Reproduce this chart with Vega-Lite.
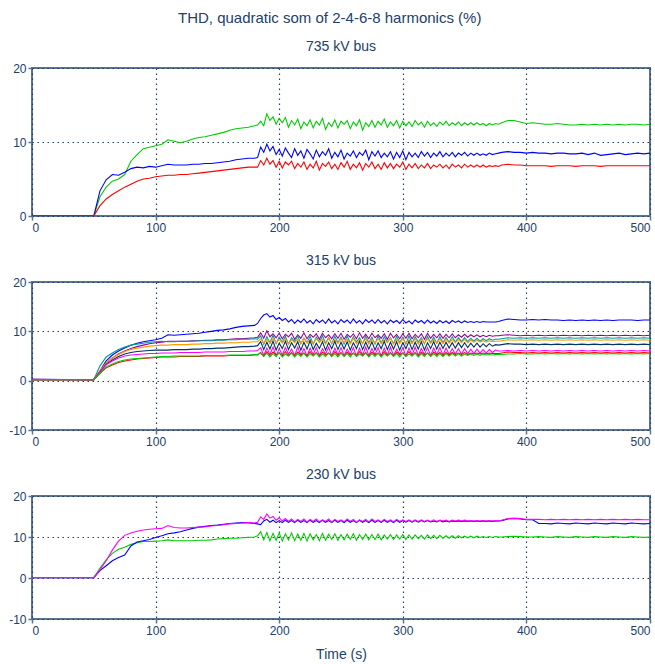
{
"$schema":"https://vega.github.io/schema/vega-lite/v6.json",
"padding":{"left":7,"top":11,"right":4,"bottom":2},
"title":{"text":"THD, quadratic som of 2-4-6-8 harmonics (%)","fontSize":15,"fontWeight":"normal","color":"#23406a","offset":13,"anchor":"middle"},
"spacing":19,
"resolve":{"scale":{"color":"independent"}},
"config":{
 "font":"Liberation Sans",
 "view":{"stroke":"#5b7391","strokeWidth":2},
 "axis":{"labelFont":"Liberation Sans","labelFontSize":12,"labelColor":"#23406a","domain":false,"tickColor":"#5b7391","tickSize":4,"tickWidth":1.5,"gridColor":"#23406a","gridDash":[1.5,3.5],"gridOpacity":1,"gridWidth":1.2,"titleFont":"Liberation Sans","titleFontSize":14,"titleFontWeight":"normal","titleColor":"#23406a","labelPadding":2},
 "title":{"font":"Liberation Sans","fontSize":14,"fontWeight":"normal","color":"#23406a","offset":8}
},
"datasets":{
"top":[
{"t":0,"g":0,"b":0,"r":0},{"t":50,"g":0,"b":0,"r":0},
{"t":55,"g":2.6,"b":3.4,"r":1.4},{"t":60,"g":3.9,"b":4.9,"r":2.3},{"t":65,"g":4.7,"b":5.6,"r":2.9},{"t":70,"g":5.0,"b":5.5,"r":3.4},
{"t":75,"g":5.6,"b":5.9,"r":3.9},{"t":80,"g":7.4,"b":6.4,"r":4.3},{"t":85,"g":8.3,"b":6.6,"r":4.7},{"t":90,"g":9.1,"b":6.5,"r":5.0},
{"t":95,"g":9.3,"b":6.7,"r":5.1},{"t":100,"g":9.5,"b":6.6,"r":5.3},{"t":105,"g":9.7,"b":6.8,"r":5.4},{"t":110,"g":10.3,"b":7.0,"r":5.5},
{"t":115,"g":10.1,"b":6.9,"r":5.5},{"t":120,"g":9.9,"b":6.9,"r":5.6},{"t":125,"g":10.1,"b":6.9,"r":5.6},{"t":130,"g":10.4,"b":7.0,"r":5.7},
{"t":135,"g":10.6,"b":7.0,"r":5.8},{"t":140,"g":10.7,"b":7.1,"r":5.9},{"t":145,"g":10.9,"b":7.1,"r":6.0},{"t":150,"g":11.1,"b":7.2,"r":6.1},
{"t":155,"g":11.3,"b":7.3,"r":6.2},{"t":160,"g":11.6,"b":7.4,"r":6.3},{"t":165,"g":11.8,"b":7.6,"r":6.4},{"t":170,"g":11.9,"b":7.7,"r":6.5},
{"t":175,"g":12.0,"b":7.8,"r":6.6},{"t":180,"g":12.2,"b":7.8,"r":6.6},
{"t":182.5,"g":12.3,"b":7.9,"r":6.6},{"t":185,"g":12.8,"b":9.3,"r":7.5},{"t":187.5,"g":12.2,"b":8.6,"r":6.9},{"t":190,"g":13.8,"b":9.7,"r":7.8},
{"t":192.5,"g":12.9,"b":8.8,"r":7.0},{"t":195,"g":13.4,"b":9.4,"r":7.5},{"t":197.5,"g":12.4,"b":8.3,"r":6.6},{"t":200,"g":13.2,"b":9.0,"r":7.4},
{"t":202.5,"g":12.6,"b":8.1,"r":6.5},{"t":205,"g":13.3,"b":9.2,"r":7.3},{"t":207.5,"g":12.0,"b":8.5,"r":6.9},{"t":210,"g":12.9,"b":7.9,"r":7.4},
{"t":212.5,"g":12.3,"b":9.1,"r":6.4},{"t":215,"g":13.1,"b":8.2,"r":7.1},{"t":217.5,"g":11.8,"b":8.8,"r":6.6},{"t":220,"g":12.7,"b":7.8,"r":7.3},
{"t":222.5,"g":12.2,"b":9.0,"r":6.3},{"t":225,"g":13.0,"b":8.4,"r":7.0},{"t":227.5,"g":11.9,"b":7.7,"r":6.5},{"t":230,"g":12.8,"b":8.9,"r":7.4},
{"t":232.5,"g":12.3,"b":8.0,"r":6.2},{"t":235,"g":13.2,"b":8.7,"r":7.1},{"t":237.5,"g":11.7,"b":8.2,"r":6.7},{"t":240,"g":12.6,"b":9.1,"r":7.3},
{"t":242.5,"g":12.1,"b":7.8,"r":6.4},{"t":245,"g":13.0,"b":8.6,"r":7.0},{"t":247.5,"g":11.9,"b":8.0,"r":6.3},{"t":250,"g":12.8,"b":8.9,"r":7.2},
{"t":252.5,"g":12.4,"b":7.7,"r":6.6},{"t":255,"g":12.9,"b":8.5,"r":7.4},{"t":257.5,"g":11.8,"b":8.1,"r":6.3},{"t":260,"g":12.7,"b":8.8,"r":7.0},
{"t":262.5,"g":12.2,"b":7.9,"r":6.5},{"t":265,"g":13.0,"b":8.6,"r":7.2},{"t":267.5,"g":11.6,"b":8.2,"r":6.2},{"t":270,"g":12.6,"b":8.9,"r":7.1},
{"t":272.5,"g":12.1,"b":7.6,"r":6.6},{"t":275,"g":12.9,"b":8.7,"r":7.3},{"t":277.5,"g":12.0,"b":8.1,"r":6.4},{"t":280,"g":12.8,"b":8.8,"r":7.0},
{"t":282.5,"g":12.3,"b":7.9,"r":6.3},{"t":285,"g":13.1,"b":8.5,"r":7.2},{"t":287.5,"g":12.0,"b":8.0,"r":6.5},{"t":290,"g":12.7,"b":8.7,"r":7.1},
{"t":292.5,"g":12.2,"b":7.7,"r":6.4},{"t":295,"g":12.9,"b":8.6,"r":7.0},{"t":297.5,"g":11.9,"b":7.9,"r":6.6},{"t":300,"g":12.8,"b":8.8,"r":7.3},
{"t":302.5,"g":12.2,"b":7.6,"r":6.3},{"t":305,"g":12.7,"b":8.6,"r":7.0},{"t":307.5,"g":12.1,"b":8.0,"r":6.5},{"t":310,"g":12.9,"b":8.5,"r":7.1},
{"t":312.5,"g":12.3,"b":7.9,"r":6.4},{"t":315,"g":12.7,"b":8.7,"r":6.9},{"t":317.5,"g":12.0,"b":8.1,"r":6.5},{"t":320,"g":12.8,"b":8.6,"r":7.1},
{"t":322.5,"g":12.2,"b":7.9,"r":6.4},{"t":325,"g":12.6,"b":8.5,"r":6.9},{"t":327.5,"g":12.1,"b":8.1,"r":6.6},{"t":330,"g":12.7,"b":8.7,"r":7.0},
{"t":332.5,"g":12.3,"b":8.0,"r":6.5},{"t":335,"g":12.8,"b":8.5,"r":6.9},{"t":337.5,"g":12.2,"b":8.1,"r":6.4},{"t":340,"g":12.6,"b":8.6,"r":7.0},
{"t":342.5,"g":12.3,"b":8.0,"r":6.6},{"t":345,"g":12.7,"b":8.5,"r":6.9},{"t":347.5,"g":12.2,"b":8.2,"r":6.5},{"t":350,"g":12.6,"b":8.6,"r":7.0},
{"t":352.5,"g":12.3,"b":8.1,"r":6.6},{"t":355,"g":12.6,"b":8.5,"r":6.9},{"t":357.5,"g":12.3,"b":8.2,"r":6.6},{"t":360,"g":12.6,"b":8.5,"r":6.9},
{"t":362.5,"g":12.3,"b":8.2,"r":6.6},{"t":365,"g":12.5,"b":8.4,"r":6.9},{"t":367.5,"g":12.2,"b":8.2,"r":6.6},{"t":370,"g":12.5,"b":8.5,"r":6.8},
{"t":372.5,"g":12.3,"b":8.3,"r":6.7},{"t":375,"g":12.5,"b":8.4,"r":6.8},{"t":377.5,"g":12.4,"b":8.5,"r":6.7},{"t":380,"g":12.6,"b":8.6,"r":6.9},
{"t":385,"g":12.9,"b":8.7,"r":7.0},{"t":390,"g":12.9,"b":8.6,"r":6.9},
{"t":395,"g":12.7,"b":8.6,"r":6.9},{"t":400,"g":12.5,"b":8.5,"r":6.8},{"t":405,"g":12.6,"b":8.6,"r":6.8},{"t":410,"g":12.5,"b":8.5,"r":6.8},
{"t":415,"g":12.4,"b":8.5,"r":6.8},{"t":420,"g":12.4,"b":8.4,"r":6.7},{"t":425,"g":12.5,"b":8.5,"r":6.8},{"t":430,"g":12.4,"b":8.5,"r":6.8},
{"t":435,"g":12.3,"b":8.4,"r":6.8},{"t":440,"g":12.3,"b":8.4,"r":6.7},{"t":445,"g":12.4,"b":8.5,"r":6.8},{"t":450,"g":12.3,"b":8.3,"r":6.8},
{"t":455,"g":12.4,"b":8.5,"r":6.8},{"t":460,"g":12.3,"b":8.2,"r":6.7},{"t":465,"g":12.4,"b":8.3,"r":6.8},{"t":470,"g":12.3,"b":8.4,"r":6.8},
{"t":475,"g":12.4,"b":8.5,"r":6.8},{"t":480,"g":12.3,"b":8.3,"r":6.8},{"t":485,"g":12.4,"b":8.4,"r":6.8},{"t":490,"g":12.4,"b":8.5,"r":6.8},
{"t":495,"g":12.3,"b":8.4,"r":6.8},{"t":500,"g":12.4,"b":8.5,"r":6.8}
],
"mid":[
{"t":0,"b":0.3,"p":0.3,"c":0.2,"o":0.2,"n":0.2,"m":0.2,"r":0.2,"g":0.2},
{"t":50,"b":0.2,"p":0.2,"c":0.2,"o":0.2,"n":0.2,"m":0.2,"r":0.2,"g":0.2},
{"t":55,"b":2.0,"p":1.8,"c":3.0,"o":2.0,"n":1.8,"m":1.8,"r":1.5,"g":1.5},
{"t":60,"b":4.0,"p":3.6,"c":4.8,"o":3.6,"n":3.3,"m":3.2,"r":2.6,"g":2.8},
{"t":65,"b":5.2,"p":4.6,"c":5.6,"o":4.6,"n":4.2,"m":4.0,"r":3.2,"g":3.4},
{"t":70,"b":6.0,"p":5.4,"c":6.3,"o":5.3,"n":4.9,"m":4.6,"r":3.7,"g":3.9},
{"t":75,"b":6.6,"p":6.0,"c":6.8,"o":5.9,"n":5.4,"m":5.0,"r":4.0,"g":4.2},
{"t":80,"b":7.2,"p":6.5,"c":7.2,"o":6.3,"n":5.7,"m":5.2,"r":4.2,"g":4.4},
{"t":85,"b":7.6,"p":6.9,"c":7.4,"o":6.6,"n":5.9,"m":5.3,"r":4.4,"g":4.5},
{"t":90,"b":7.9,"p":7.2,"c":7.6,"o":6.8,"n":6.0,"m":5.4,"r":4.5,"g":4.6},
{"t":95,"b":8.1,"p":7.5,"c":7.8,"o":7.0,"n":6.1,"m":5.5,"r":4.6,"g":4.7},
{"t":100,"b":8.3,"p":7.7,"c":7.9,"o":7.1,"n":6.2,"m":5.5,"r":4.7,"g":4.8},
{"t":105,"b":8.6,"p":7.8,"c":8.0,"o":7.2,"n":6.2,"m":5.6,"r":4.8,"g":4.9},
{"t":110,"b":9.3,"p":8.0,"c":7.9,"o":7.2,"n":6.2,"m":5.6,"r":4.8,"g":4.9},
{"t":115,"b":9.2,"p":8.0,"c":7.9,"o":7.3,"n":6.3,"m":5.6,"r":4.8,"g":5.0},
{"t":120,"b":9.3,"p":8.0,"c":8.0,"o":7.3,"n":6.3,"m":5.7,"r":4.9,"g":5.0},
{"t":125,"b":9.4,"p":8.0,"c":8.0,"o":7.3,"n":6.3,"m":5.7,"r":4.9,"g":5.0},
{"t":130,"b":9.5,"p":8.1,"c":8.0,"o":7.4,"n":6.4,"m":5.7,"r":4.9,"g":5.0},
{"t":135,"b":9.6,"p":8.1,"c":8.1,"o":7.4,"n":6.4,"m":5.7,"r":4.9,"g":5.0},
{"t":140,"b":9.8,"p":8.2,"c":8.1,"o":7.5,"n":6.5,"m":5.8,"r":5.0,"g":5.1},
{"t":145,"b":10.0,"p":8.2,"c":8.1,"o":7.5,"n":6.5,"m":5.8,"r":5.0,"g":5.1},
{"t":150,"b":10.2,"p":8.3,"c":8.2,"o":7.6,"n":6.6,"m":5.8,"r":5.0,"g":5.1},
{"t":155,"b":10.3,"p":8.3,"c":8.2,"o":7.6,"n":6.6,"m":5.8,"r":5.0,"g":5.1},
{"t":160,"b":10.5,"p":8.4,"c":8.3,"o":7.7,"n":6.7,"m":5.9,"r":5.1,"g":5.2},
{"t":165,"b":10.8,"p":8.5,"c":8.3,"o":7.7,"n":6.8,"m":5.9,"r":5.1,"g":5.2},
{"t":170,"b":11.0,"p":8.5,"c":8.4,"o":7.8,"n":6.9,"m":5.9,"r":5.1,"g":5.2},
{"t":175,"b":11.1,"p":8.6,"c":8.4,"o":7.8,"n":6.9,"m":6.0,"r":5.1,"g":5.2},
{"t":180,"b":11.2,"p":8.7,"c":8.5,"o":7.9,"n":7.0,"m":6.0,"r":5.2,"g":5.3},
{"t":182.5,"b":11.6,"p":8.8,"c":8.4,"o":7.9,"n":7.1,"m":6.1,"r":5.2,"g":5.3},
{"t":185,"b":12.6,"p":9.7,"c":9.1,"o":8.5,"n":7.9,"m":6.7,"r":5.7,"g":5.6},
{"t":187.5,"b":13.3,"p":8.6,"c":7.4,"o":7.6,"n":6.3,"m":5.1,"r":5.0,"g":4.9},
{"t":190,"b":13.6,"p":10.1,"c":8.9,"o":8.4,"n":7.8,"m":6.6,"r":5.9,"g":5.6},
{"t":192.5,"b":12.9,"p":8.9,"c":7.7,"o":7.5,"n":6.4,"m":5.3,"r":5.1,"g":4.8},
{"t":195,"b":13.2,"p":9.5,"c":9.2,"o":8.6,"n":8.0,"m":6.8,"r":5.8,"g":5.5},
{"t":197.5,"b":12.4,"p":8.7,"c":7.5,"o":7.7,"n":6.2,"m":5.0,"r":5.2,"g":4.9},
{"t":200,"b":12.8,"p":9.6,"c":8.8,"o":8.3,"n":7.6,"m":6.5,"r":5.6,"g":5.7},
{"t":202.5,"b":12.2,"p":8.5,"c":7.8,"o":7.6,"n":6.5,"m":5.2,"r":5.0,"g":4.8},
{"t":205,"b":12.6,"p":9.4,"c":9.0,"o":8.5,"n":8.0,"m":6.7,"r":5.9,"g":5.4},
{"t":207.5,"b":11.9,"p":8.9,"c":7.4,"o":7.4,"n":6.3,"m":5.4,"r":5.1,"g":5.0},
{"t":210,"b":12.4,"p":9.6,"c":8.7,"o":8.3,"n":7.7,"m":6.4,"r":5.7,"g":5.6},
{"t":212.5,"b":11.6,"p":8.4,"c":7.9,"o":7.7,"n":6.6,"m":5.1,"r":5.0,"g":4.8},
{"t":215,"b":12.3,"p":9.3,"c":9.1,"o":8.4,"n":7.9,"m":6.8,"r":5.8,"g":5.5},
{"t":217.5,"b":11.8,"p":8.6,"c":7.5,"o":7.5,"n":6.2,"m":5.2,"r":5.2,"g":4.9},
{"t":220,"b":12.5,"p":9.7,"c":8.6,"o":8.6,"n":7.8,"m":6.5,"r":5.6,"g":5.6},
{"t":222.5,"b":11.7,"p":8.5,"c":7.7,"o":7.6,"n":6.4,"m":5.0,"r":5.0,"g":4.8},
{"t":225,"b":12.2,"p":9.4,"c":9.0,"o":8.3,"n":8.1,"m":6.6,"r":5.9,"g":5.5},
{"t":227.5,"b":11.5,"p":8.8,"c":7.4,"o":7.5,"n":6.3,"m":5.3,"r":5.1,"g":5.0},
{"t":230,"b":12.4,"p":9.5,"c":8.8,"o":8.5,"n":7.6,"m":6.7,"r":5.7,"g":5.6},
{"t":232.5,"b":11.8,"p":8.4,"c":7.8,"o":7.7,"n":6.5,"m":5.1,"r":5.0,"g":4.8},
{"t":235,"b":12.3,"p":9.6,"c":9.1,"o":8.4,"n":7.9,"m":6.5,"r":5.8,"g":5.4},
{"t":237.5,"b":11.6,"p":8.7,"c":7.6,"o":7.4,"n":6.2,"m":5.4,"r":5.2,"g":4.9},
{"t":240,"b":12.5,"p":9.3,"c":8.7,"o":8.6,"n":7.7,"m":6.8,"r":5.6,"g":5.6},
{"t":242.5,"b":11.7,"p":8.5,"c":7.5,"o":7.6,"n":6.5,"m":5.0,"r":5.0,"g":4.9},
{"t":245,"b":12.2,"p":9.5,"c":9.0,"o":8.3,"n":8.0,"m":6.6,"r":5.9,"g":5.5},
{"t":247.5,"b":11.5,"p":8.6,"c":7.7,"o":7.5,"n":6.3,"m":5.2,"r":5.1,"g":4.8},
{"t":250,"b":12.4,"p":9.6,"c":8.8,"o":8.5,"n":7.8,"m":6.7,"r":5.7,"g":5.6},
{"t":252.5,"b":11.8,"p":8.4,"c":7.4,"o":7.7,"n":6.4,"m":5.1,"r":5.0,"g":4.9},
{"t":255,"b":12.3,"p":9.4,"c":9.1,"o":8.4,"n":7.9,"m":6.4,"r":5.8,"g":5.5},
{"t":257.5,"b":11.6,"p":8.8,"c":7.6,"o":7.4,"n":6.2,"m":5.3,"r":5.2,"g":4.8},
{"t":260,"b":12.5,"p":9.5,"c":8.9,"o":8.6,"n":7.7,"m":6.7,"r":5.6,"g":5.6},
{"t":262.5,"b":11.7,"p":8.5,"c":7.8,"o":7.5,"n":6.5,"m":5.0,"r":5.0,"g":4.9},
{"t":265,"b":12.2,"p":9.7,"c":8.7,"o":8.3,"n":8.0,"m":6.6,"r":5.9,"g":5.4},
{"t":267.5,"b":11.5,"p":8.6,"c":7.5,"o":7.6,"n":6.3,"m":5.2,"r":5.1,"g":5.0},
{"t":270,"b":12.4,"p":9.4,"c":9.0,"o":8.5,"n":7.8,"m":6.8,"r":5.7,"g":5.6},
{"t":272.5,"b":11.8,"p":8.5,"c":7.7,"o":7.4,"n":6.4,"m":5.1,"r":5.0,"g":4.8},
{"t":275,"b":12.3,"p":9.6,"c":8.8,"o":8.4,"n":7.9,"m":6.5,"r":5.8,"g":5.5},
{"t":277.5,"b":11.6,"p":8.7,"c":7.4,"o":7.6,"n":6.2,"m":5.3,"r":5.2,"g":4.9},
{"t":280,"b":12.4,"p":9.3,"c":9.1,"o":8.5,"n":7.7,"m":6.7,"r":5.6,"g":5.6},
{"t":282.5,"b":11.7,"p":8.6,"c":7.6,"o":7.5,"n":6.5,"m":5.0,"r":5.0,"g":4.8},
{"t":285,"b":12.2,"p":9.5,"c":8.9,"o":8.3,"n":8.0,"m":6.6,"r":5.9,"g":5.5},
{"t":287.5,"b":11.5,"p":8.4,"c":7.8,"o":7.7,"n":6.3,"m":5.2,"r":5.1,"g":5.0},
{"t":290,"b":12.3,"p":9.6,"c":8.7,"o":8.6,"n":7.8,"m":6.8,"r":5.7,"g":5.6},
{"t":292.5,"b":11.8,"p":8.7,"c":7.5,"o":7.4,"n":6.4,"m":5.1,"r":5.0,"g":4.9},
{"t":295,"b":12.2,"p":9.4,"c":9.0,"o":8.4,"n":7.9,"m":6.4,"r":5.8,"g":5.5},
{"t":297.5,"b":11.6,"p":8.5,"c":7.7,"o":7.5,"n":6.2,"m":5.3,"r":5.2,"g":4.8},
{"t":300,"b":12.4,"p":9.5,"c":8.8,"o":8.5,"n":7.7,"m":6.7,"r":5.6,"g":5.6},
{"t":302.5,"b":11.7,"p":8.6,"c":7.4,"o":7.6,"n":6.5,"m":5.0,"r":5.0,"g":4.9},
{"t":305,"b":12.1,"p":9.6,"c":9.1,"o":8.3,"n":8.0,"m":6.6,"r":5.9,"g":5.4},
{"t":307.5,"b":11.5,"p":8.5,"c":7.6,"o":7.5,"n":6.3,"m":5.2,"r":5.1,"g":5.0},
{"t":310,"b":12.3,"p":9.4,"c":8.9,"o":8.5,"n":7.8,"m":6.8,"r":5.7,"g":5.6},
{"t":312.5,"b":11.8,"p":8.7,"c":7.8,"o":7.4,"n":6.4,"m":5.1,"r":5.0,"g":4.8},
{"t":315,"b":12.2,"p":9.5,"c":8.7,"o":8.4,"n":7.9,"m":6.5,"r":5.8,"g":5.5},
{"t":317.5,"b":11.6,"p":8.4,"c":7.5,"o":7.6,"n":6.2,"m":5.3,"r":5.2,"g":4.9},
{"t":320,"b":12.3,"p":9.6,"c":9.0,"o":8.5,"n":7.7,"m":6.7,"r":5.6,"g":5.6},
{"t":322.5,"b":11.7,"p":8.6,"c":7.7,"o":7.5,"n":6.5,"m":5.1,"r":5.0,"g":4.9},
{"t":325,"b":12.1,"p":9.4,"c":8.8,"o":8.3,"n":7.9,"m":6.6,"r":5.8,"g":5.5},
{"t":327.5,"b":11.6,"p":8.7,"c":7.6,"o":7.6,"n":6.4,"m":5.3,"r":5.2,"g":4.9},
{"t":330,"b":12.2,"p":9.5,"c":8.9,"o":8.4,"n":7.8,"m":6.7,"r":5.7,"g":5.5},
{"t":332.5,"b":11.7,"p":8.6,"c":7.7,"o":7.5,"n":6.5,"m":5.2,"r":5.1,"g":4.9},
{"t":335,"b":12.1,"p":9.4,"c":8.8,"o":8.4,"n":7.8,"m":6.6,"r":5.7,"g":5.5},
{"t":337.5,"b":11.6,"p":8.7,"c":7.8,"o":7.6,"n":6.6,"m":5.3,"r":5.2,"g":5.0},
{"t":340,"b":12.2,"p":9.5,"c":8.9,"o":8.3,"n":7.7,"m":6.5,"r":5.7,"g":5.5},
{"t":342.5,"b":11.8,"p":8.7,"c":7.8,"o":7.7,"n":6.6,"m":5.4,"r":5.3,"g":5.0},
{"t":345,"b":12.1,"p":9.3,"c":8.7,"o":8.3,"n":7.7,"m":6.5,"r":5.6,"g":5.5},
{"t":347.5,"b":11.7,"p":8.8,"c":7.9,"o":7.7,"n":6.7,"m":5.4,"r":5.3,"g":5.0},
{"t":350,"b":12.1,"p":9.4,"c":8.7,"o":8.3,"n":7.7,"m":6.5,"r":5.7,"g":5.4},
{"t":352.5,"b":11.8,"p":8.8,"c":7.9,"o":7.7,"n":6.7,"m":5.5,"r":5.3,"g":5.1},
{"t":355,"b":12.0,"p":9.3,"c":8.6,"o":8.2,"n":7.6,"m":6.4,"r":5.6,"g":5.4},
{"t":357.5,"b":11.8,"p":8.9,"c":8.0,"o":7.8,"n":6.8,"m":5.5,"r":5.4,"g":5.1},
{"t":360,"b":12.0,"p":9.3,"c":8.6,"o":8.2,"n":7.6,"m":6.4,"r":5.6,"g":5.4},
{"t":362.5,"b":11.8,"p":8.9,"c":8.0,"o":7.8,"n":6.8,"m":5.6,"r":5.4,"g":5.1},
{"t":365,"b":12.0,"p":9.2,"c":8.5,"o":8.1,"n":7.5,"m":6.3,"r":5.6,"g":5.4},
{"t":367.5,"b":11.9,"p":8.9,"c":8.1,"o":7.8,"n":6.9,"m":5.6,"r":5.4,"g":5.2},
{"t":370,"b":11.9,"p":9.2,"c":8.5,"o":8.1,"n":7.5,"m":6.3,"r":5.6,"g":5.3},
{"t":372.5,"b":11.9,"p":9.0,"c":8.2,"o":7.9,"n":7.0,"m":5.7,"r":5.5,"g":5.2},
{"t":375,"b":11.9,"p":9.1,"c":8.4,"o":8.0,"n":7.3,"m":6.2,"r":5.5,"g":5.3},
{"t":377.5,"b":12.0,"p":9.1,"c":8.4,"o":8.0,"n":7.2,"m":6.0,"r":5.5,"g":5.3},
{"t":380,"b":12.2,"p":9.2,"c":8.5,"o":8.1,"n":7.3,"m":6.0,"r":5.6,"g":5.3},
{"t":385,"b":12.5,"p":9.3,"c":8.7,"o":8.3,"n":7.5,"m":6.1,"r":5.8,"g":5.4},
{"t":390,"b":12.4,"p":9.2,"c":8.6,"o":8.2,"n":7.4,"m":6.0,"r":5.7,"g":5.4},
{"t":395,"b":12.3,"p":9.1,"c":8.7,"o":8.3,"n":7.4,"m":6.1,"r":5.7,"g":5.5},
{"t":400,"b":12.3,"p":9.2,"c":8.6,"o":8.2,"n":7.3,"m":6.0,"r":5.6,"g":5.4},
{"t":405,"b":12.4,"p":9.1,"c":8.7,"o":8.3,"n":7.4,"m":6.1,"r":5.7,"g":5.4},
{"t":410,"b":12.3,"p":9.2,"c":8.6,"o":8.2,"n":7.3,"m":6.0,"r":5.6,"g":5.5},
{"t":415,"b":12.4,"p":9.1,"c":8.7,"o":8.3,"n":7.4,"m":6.1,"r":5.7,"g":5.4},
{"t":420,"b":12.3,"p":9.2,"c":8.6,"o":8.2,"n":7.3,"m":6.0,"r":5.6,"g":5.5},
{"t":425,"b":12.3,"p":9.1,"c":8.7,"o":8.3,"n":7.4,"m":6.1,"r":5.7,"g":5.4},
{"t":430,"b":12.2,"p":9.2,"c":8.6,"o":8.2,"n":7.3,"m":6.0,"r":5.6,"g":5.5},
{"t":435,"b":12.3,"p":9.1,"c":8.7,"o":8.3,"n":7.4,"m":6.1,"r":5.7,"g":5.4},
{"t":440,"b":12.2,"p":9.2,"c":8.6,"o":8.2,"n":7.3,"m":6.0,"r":5.6,"g":5.5},
{"t":445,"b":12.3,"p":9.1,"c":8.7,"o":8.3,"n":7.4,"m":6.1,"r":5.7,"g":5.4},
{"t":450,"b":12.2,"p":9.2,"c":8.6,"o":8.2,"n":7.3,"m":6.0,"r":5.6,"g":5.5},
{"t":455,"b":12.3,"p":9.1,"c":8.7,"o":8.3,"n":7.4,"m":6.1,"r":5.7,"g":5.4},
{"t":460,"b":12.2,"p":9.2,"c":8.6,"o":8.2,"n":7.3,"m":6.0,"r":5.6,"g":5.5},
{"t":465,"b":12.3,"p":9.1,"c":8.7,"o":8.3,"n":7.4,"m":6.1,"r":5.7,"g":5.4},
{"t":470,"b":12.2,"p":9.2,"c":8.6,"o":8.2,"n":7.3,"m":6.0,"r":5.6,"g":5.5},
{"t":475,"b":12.3,"p":9.1,"c":8.7,"o":8.3,"n":7.4,"m":6.1,"r":5.7,"g":5.4},
{"t":480,"b":12.3,"p":9.2,"c":8.6,"o":8.2,"n":7.3,"m":6.0,"r":5.6,"g":5.5},
{"t":485,"b":12.3,"p":9.1,"c":8.7,"o":8.3,"n":7.4,"m":6.1,"r":5.7,"g":5.4},
{"t":490,"b":12.2,"p":9.2,"c":8.6,"o":8.2,"n":7.3,"m":6.0,"r":5.6,"g":5.5},
{"t":495,"b":12.3,"p":9.1,"c":8.7,"o":8.3,"n":7.4,"m":6.1,"r":5.7,"g":5.4},
{"t":500,"b":12.3,"p":9.2,"c":8.6,"o":8.2,"n":7.3,"m":6.0,"r":5.6,"g":5.5}
],
"bot":[
{"t":0,"m":0.1,"b":0.1,"g":0.1},{"t":50,"m":0.1,"b":0.1,"g":0.1},
{"t":55,"m":2.0,"b":1.8,"g":2.4},{"t":60,"m":4.2,"b":3.0,"g":4.4},{"t":65,"m":6.8,"b":4.2,"g":6.0},{"t":70,"m":9.0,"b":5.0,"g":7.0},
{"t":75,"m":10.4,"b":5.6,"g":7.5},{"t":80,"m":11.0,"b":7.8,"g":8.2},{"t":85,"m":11.4,"b":8.8,"g":8.6},{"t":90,"m":11.7,"b":9.1,"g":8.9},
{"t":95,"m":11.9,"b":9.4,"g":8.9},{"t":100,"m":12.0,"b":9.9,"g":9.0},{"t":105,"m":12.1,"b":10.3,"g":9.1},{"t":110,"m":12.8,"b":10.8,"g":9.3},
{"t":115,"m":12.3,"b":11.0,"g":9.1},{"t":120,"m":12.2,"b":11.3,"g":9.1},{"t":125,"m":12.2,"b":11.7,"g":9.1},{"t":130,"m":12.3,"b":12.1,"g":9.1},
{"t":135,"m":12.4,"b":12.4,"g":9.2},{"t":140,"m":12.5,"b":12.6,"g":9.2},{"t":145,"m":12.7,"b":12.8,"g":9.3},{"t":150,"m":12.8,"b":12.9,"g":9.5},
{"t":155,"m":13.0,"b":13.1,"g":9.6},{"t":160,"m":13.2,"b":13.3,"g":9.7},{"t":165,"m":13.3,"b":13.4,"g":9.7},{"t":170,"m":13.4,"b":13.5,"g":9.8},
{"t":175,"m":13.5,"b":13.5,"g":9.9},{"t":180,"m":13.4,"b":13.3,"g":10.0},
{"t":182.5,"m":13.6,"b":13.2,"g":10.3},{"t":185,"m":14.9,"b":13.0,"g":11.3},{"t":187.5,"m":14.3,"b":13.9,"g":9.3},{"t":190,"m":15.6,"b":14.3,"g":11.1},
{"t":192.5,"m":14.6,"b":13.6,"g":9.1},{"t":195,"m":15.0,"b":14.1,"g":10.9},{"t":197.5,"m":14.1,"b":13.5,"g":9.2},{"t":200,"m":14.7,"b":14.0,"g":11.0},
{"t":202.5,"m":13.9,"b":13.5,"g":9.0},{"t":205,"m":14.5,"b":14.1,"g":10.8},{"t":207.5,"m":13.8,"b":13.6,"g":9.3},{"t":210,"m":14.4,"b":14.0,"g":11.0},
{"t":212.5,"m":13.7,"b":13.5,"g":9.1},{"t":215,"m":14.3,"b":14.1,"g":10.7},{"t":217.5,"m":13.8,"b":13.6,"g":9.2},{"t":220,"m":14.4,"b":14.0,"g":10.9},
{"t":222.5,"m":13.6,"b":13.5,"g":9.0},{"t":225,"m":14.3,"b":14.1,"g":10.8},{"t":227.5,"m":13.8,"b":13.6,"g":9.3},{"t":230,"m":14.4,"b":14.0,"g":10.6},
{"t":232.5,"m":13.7,"b":13.5,"g":9.1},{"t":235,"m":14.2,"b":14.1,"g":10.9},{"t":237.5,"m":13.8,"b":13.6,"g":9.2},{"t":240,"m":14.4,"b":14.0,"g":10.7},
{"t":242.5,"m":13.6,"b":13.5,"g":9.4},{"t":245,"m":14.3,"b":14.1,"g":10.8},{"t":247.5,"m":13.8,"b":13.6,"g":9.2},{"t":250,"m":14.2,"b":14.0,"g":10.6},
{"t":252.5,"m":13.7,"b":13.5,"g":9.3},{"t":255,"m":14.4,"b":14.1,"g":10.7},{"t":257.5,"m":13.8,"b":13.6,"g":9.4},{"t":260,"m":14.3,"b":14.0,"g":10.8},
{"t":262.5,"m":13.6,"b":13.5,"g":9.2},{"t":265,"m":14.2,"b":14.1,"g":10.6},{"t":267.5,"m":13.8,"b":13.6,"g":9.4},{"t":270,"m":14.3,"b":14.0,"g":10.7},
{"t":272.5,"m":13.7,"b":13.5,"g":9.3},{"t":275,"m":14.4,"b":14.1,"g":10.6},{"t":277.5,"m":13.8,"b":13.6,"g":9.4},{"t":280,"m":14.2,"b":14.0,"g":10.7},
{"t":282.5,"m":13.7,"b":13.6,"g":9.3},{"t":285,"m":14.3,"b":14.1,"g":10.5},{"t":287.5,"m":13.8,"b":13.6,"g":9.5},{"t":290,"m":14.2,"b":14.0,"g":10.6},
{"t":292.5,"m":13.7,"b":13.5,"g":9.4},{"t":295,"m":14.3,"b":14.1,"g":10.5},{"t":297.5,"m":13.8,"b":13.6,"g":9.5},{"t":300,"m":14.2,"b":14.0,"g":10.6},
{"t":302.5,"m":13.8,"b":13.6,"g":9.4},{"t":305,"m":14.2,"b":14.0,"g":10.5},{"t":307.5,"m":13.7,"b":13.6,"g":9.5},{"t":310,"m":14.2,"b":14.0,"g":10.5},
{"t":312.5,"m":13.8,"b":13.6,"g":9.6},{"t":315,"m":14.2,"b":14.0,"g":10.4},{"t":317.5,"m":13.8,"b":13.7,"g":9.5},{"t":320,"m":14.1,"b":14.0,"g":10.5},
{"t":322.5,"m":13.8,"b":13.7,"g":9.6},{"t":325,"m":14.2,"b":13.9,"g":10.4},{"t":327.5,"m":13.8,"b":13.7,"g":9.6},{"t":330,"m":14.1,"b":14.0,"g":10.4},
{"t":332.5,"m":13.9,"b":13.7,"g":9.7},{"t":335,"m":14.1,"b":13.9,"g":10.3},{"t":337.5,"m":13.8,"b":13.7,"g":9.7},{"t":340,"m":14.1,"b":13.9,"g":10.3},
{"t":342.5,"m":13.9,"b":13.8,"g":9.7},{"t":345,"m":14.1,"b":13.9,"g":10.3},{"t":347.5,"m":13.9,"b":13.8,"g":9.8},{"t":350,"m":14.1,"b":13.9,"g":10.2},
{"t":352.5,"m":13.9,"b":13.8,"g":9.8},{"t":355,"m":14.0,"b":13.9,"g":10.2},{"t":357.5,"m":13.9,"b":13.8,"g":9.8},{"t":360,"m":14.0,"b":13.9,"g":10.2},
{"t":362.5,"m":13.9,"b":13.8,"g":9.9},{"t":365,"m":14.0,"b":13.9,"g":10.1},{"t":367.5,"m":13.9,"b":13.8,"g":9.9},{"t":370,"m":14.0,"b":13.9,"g":10.1},
{"t":372.5,"m":13.9,"b":13.8,"g":9.9},{"t":375,"m":14.0,"b":13.9,"g":10.1},{"t":377.5,"m":13.9,"b":13.9,"g":10.0},{"t":380,"m":14.1,"b":14.0,"g":10.0},
{"t":385,"m":14.5,"b":14.4,"g":10.1},{"t":390,"m":14.6,"b":14.5,"g":10.2},
{"t":395,"m":14.5,"b":14.4,"g":10.1},{"t":400,"m":14.3,"b":14.2,"g":10.0},{"t":405,"m":14.3,"b":14.2,"g":10.0},{"t":410,"m":14.3,"b":13.3,"g":10.1},
{"t":415,"m":14.2,"b":13.3,"g":10.0},{"t":420,"m":14.3,"b":13.2,"g":9.9},{"t":425,"m":14.2,"b":13.4,"g":10.1},{"t":430,"m":14.3,"b":13.3,"g":10.0},
{"t":435,"m":14.2,"b":13.2,"g":9.9},{"t":440,"m":14.3,"b":13.4,"g":10.1},{"t":445,"m":14.2,"b":13.3,"g":10.0},{"t":450,"m":14.3,"b":13.2,"g":9.9},
{"t":455,"m":14.2,"b":13.4,"g":10.1},{"t":460,"m":14.3,"b":13.3,"g":10.0},{"t":465,"m":14.2,"b":13.2,"g":9.9},{"t":470,"m":14.3,"b":13.4,"g":10.1},
{"t":475,"m":14.2,"b":13.3,"g":10.0},{"t":480,"m":14.3,"b":13.2,"g":9.9},{"t":485,"m":14.2,"b":13.4,"g":10.1},{"t":490,"m":14.3,"b":13.3,"g":10.0},
{"t":495,"m":14.2,"b":13.2,"g":9.9},{"t":500,"m":14.2,"b":13.3,"g":10.0}
]
},
"vconcat":[
{"title":"735 kV bus","width":618,"height":148,"data":{"name":"top"},
 "transform":[{"fold":["g","b","r"],"as":["k","v"]}],
 "mark":{"type":"line","strokeWidth":1.1,"clip":true},
 "encoding":{
  "x":{"field":"t","type":"quantitative","scale":{"domain":[0,500],"nice":false},"axis":{"values":[0,100,200,300,400,500],"title":null}},
  "y":{"field":"v","type":"quantitative","scale":{"domain":[0,20],"nice":false},"axis":{"values":[0,10,20],"title":null,"labelExpr":"''+datum.value"}},
  "color":{"field":"k","type":"nominal","scale":{"domain":["g","b","r"],"range":["#00cc00","#0000ff","#ff0000"]},"legend":null}}},
{"title":"315 kV bus","width":618,"height":148,"data":{"name":"mid"},
 "transform":[{"fold":["b","p","c","o","n","m","r","g"],"as":["k","v"]}],
 "mark":{"type":"line","strokeWidth":1.1,"clip":true},
 "encoding":{
  "x":{"field":"t","type":"quantitative","scale":{"domain":[0,500],"nice":false},"axis":{"values":[0,100,200,300,400,500],"title":null}},
  "y":{"field":"v","type":"quantitative","scale":{"domain":[-10,20],"nice":false},"axis":{"values":[-10,0,10,20],"title":null,"labelExpr":"''+datum.value"}},
  "color":{"field":"k","type":"nominal","scale":{"domain":["b","p","c","o","n","m","r","g"],"range":["#0000ff","#990099","#009999","#ff9900","#003366","#ff00ff","#ff0000","#00cc00"]},"legend":null}}},
{"title":"230 kV bus","width":618,"height":123,"data":{"name":"bot"},
 "transform":[{"fold":["g","b","m"],"as":["k","v"]}],
 "mark":{"type":"line","strokeWidth":1.1,"clip":true},
 "encoding":{
  "x":{"field":"t","type":"quantitative","scale":{"domain":[0,500],"nice":false},"axis":{"values":[0,100,200,300,400,500],"title":"Time (s)","titlePadding":11}},
  "y":{"field":"v","type":"quantitative","scale":{"domain":[-10,20],"nice":false},"axis":{"values":[-10,0,10,20],"title":null,"labelExpr":"''+datum.value"}},
  "color":{"field":"k","type":"nominal","scale":{"domain":["g","b","m"],"range":["#00cc00","#0000ff","#ff00ff"]},"legend":null}}}
]
}
